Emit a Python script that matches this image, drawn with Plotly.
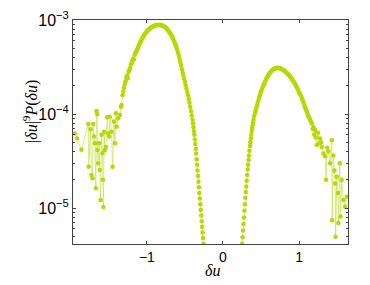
import plotly.graph_objects as go

# ---- data: delta-u positions and log10(|du|^9 P(du)) ----
left_tail_x = [-1.947, -1.917, -1.86, -1.77, -1.765, -1.74, -1.728, -1.714, -1.706, -1.697,
               -1.684, -1.671, -1.662, -1.654, -1.650, -1.641, -1.628, -1.618, -1.609, -1.596,
               -1.583, -1.578, -1.572, -1.562, -1.553, -1.54, -1.522, -1.509, -1.496, -1.487,
               -1.465, -1.451, -1.434, -1.42, -1.408, -1.399, -1.377, -1.355, -1.342, -1.333]
left_tail_logy = [-4.206, -4.26, -4.38, -4.106, -4.56, -4.163, -4.65, -4.684, -4.106, -4.24,
                  -4.31, -4.79, -3.968, -4.003, -4.383, -4.525, -4.31, -4.596, -4.915, -4.22,
                  -4.418, -4.70, -4.99, -4.188, -4.383, -4.35, -4.035, -4.206, -4.24, -4.03,
                  -4.188, -4.56, -4.08, -4.31, -3.993, -4.135, -4.046, -4.01, -3.922, -3.904]

left_hump_x = [-1.32, -1.31, -1.30, -1.29, -1.28, -1.27, -1.26, -1.25, -1.24, -1.23, -1.22, -1.21,
               -1.20, -1.19, -1.18, -1.17, -1.16, -1.15, -1.14, -1.13, -1.12, -1.11, -1.10, -1.09,
               -1.08, -1.07, -1.06, -1.05, -1.04, -1.03, -1.02, -1.01,
               -1.00, -0.99, -0.98, -0.97, -0.96, -0.95, -0.94, -0.93, -0.92, -0.91, -0.90, -0.89,
               -0.88, -0.87, -0.86, -0.85, -0.84, -0.83, -0.82, -0.81, -0.80, -0.79,
               -0.78, -0.77, -0.76, -0.75, -0.74, -0.73, -0.72, -0.71, -0.70, -0.69, -0.68, -0.67,
               -0.66, -0.65, -0.64, -0.63, -0.62, -0.61, -0.60, -0.59, -0.58,
               -0.57, -0.56, -0.55, -0.54, -0.53, -0.52, -0.51, -0.50, -0.49, -0.48, -0.47, -0.46,
               -0.45, -0.44, -0.43, -0.42, -0.41]
left_hump_logy = [-3.80, -3.76, -3.72, -3.68, -3.65, -3.61, -3.59, -3.62, -3.55, -3.53, -3.51, -3.47,
                  -3.46, -3.43, -3.41, -3.42, -3.37, -3.35, -3.335, -3.32, -3.30, -3.28, -3.26, -3.24,
                  -3.225, -3.21, -3.19, -3.18, -3.165, -3.15, -3.14, -3.13,
                  -3.12, -3.11, -3.105, -3.097, -3.09, -3.083, -3.077, -3.072, -3.068, -3.064, -3.061, -3.058,
                  -3.056, -3.054, -3.053, -3.052, -3.052, -3.053, -3.054, -3.056, -3.058, -3.061,
                  -3.065, -3.07, -3.075, -3.082, -3.09, -3.10, -3.11, -3.122, -3.135, -3.147, -3.16, -3.175,
                  -3.19, -3.21, -3.23, -3.25, -3.27, -3.295, -3.32, -3.35, -3.38,
                  -3.415, -3.45, -3.485, -3.52, -3.555, -3.59, -3.625, -3.66, -3.695, -3.73, -3.765, -3.80,
                  -3.84, -3.88, -3.925, -3.97, -4.015]

left_steep_x = [-0.400, -0.394, -0.388, -0.382, -0.376, -0.370, -0.364, -0.358, -0.352, -0.346,
                -0.340, -0.334, -0.328, -0.322, -0.316, -0.310, -0.304, -0.298, -0.292, -0.286,
                -0.280, -0.274, -0.268, -0.262, -0.256]
left_steep_logy = [-4.06, -4.10, -4.14, -4.18, -4.22, -4.27, -4.32, -4.37, -4.42, -4.48,
                   -4.54, -4.60, -4.66, -4.72, -4.78, -4.84, -4.90, -4.96, -5.02, -5.08,
                   -5.14, -5.20, -5.26, -5.32, -5.38]

right_steep_x = [0.252, 0.258, 0.264, 0.270, 0.276, 0.282, 0.288, 0.294, 0.300, 0.306,
                 0.312, 0.318, 0.324, 0.330, 0.336, 0.342, 0.348, 0.354, 0.360, 0.366,
                 0.372, 0.378, 0.384, 0.390, 0.396, 0.402]
right_steep_logy = [-5.38, -5.31, -5.24, -5.17, -5.10, -5.03, -4.96, -4.89, -4.83, -4.77,
                    -4.71, -4.65, -4.59, -4.54, -4.49, -4.44, -4.39, -4.34, -4.30, -4.26,
                    -4.22, -4.18, -4.15, -4.12, -4.09, -4.06]

right_hump_x = [0.41, 0.42, 0.43, 0.44, 0.45, 0.46, 0.47, 0.48, 0.49, 0.50, 0.51, 0.52, 0.53, 0.54,
                0.55, 0.56, 0.57, 0.58, 0.59, 0.60, 0.61, 0.62, 0.63, 0.64, 0.65, 0.66, 0.67,
                0.68, 0.69, 0.70, 0.71, 0.72, 0.73, 0.74, 0.75, 0.76, 0.77, 0.78, 0.79, 0.80,
                0.81, 0.82, 0.83, 0.84, 0.85, 0.86, 0.87, 0.88, 0.89, 0.90, 0.91, 0.92,
                0.93, 0.94, 0.95, 0.96, 0.97, 0.98, 0.99, 1.00, 1.01, 1.02, 1.03, 1.04, 1.05,
                1.06, 1.07, 1.08, 1.09, 1.10, 1.11, 1.12, 1.13, 1.14, 1.15, 1.16]
right_hump_logy = [-4.02, -3.99, -3.96, -3.93, -3.90, -3.87, -3.84, -3.81, -3.785, -3.76, -3.74,
                   -3.72, -3.70, -3.68, -3.66, -3.64, -3.625, -3.61, -3.595, -3.58, -3.57, -3.56,
                   -3.55, -3.54, -3.532, -3.525, -3.52, -3.515, -3.512, -3.51, -3.509, -3.508,
                   -3.509, -3.51, -3.512, -3.515, -3.52, -3.525, -3.53, -3.535, -3.542, -3.55,
                   -3.557, -3.565, -3.572, -3.58, -3.59, -3.60, -3.61, -3.62, -3.632, -3.645,
                   -3.657, -3.67, -3.685, -3.70, -3.715, -3.73, -3.75, -3.77, -3.785, -3.80,
                   -3.82, -3.84, -3.86, -3.88, -3.905, -3.93, -3.95, -3.97, -3.995, -4.02,
                   -4.035, -4.05, -4.07, -4.09]

right_tail_x = [1.167, 1.18, 1.19, 1.20, 1.21, 1.22, 1.233, 1.25, 1.265, 1.276, 1.29, 1.30,
                1.32, 1.342, 1.355, 1.37, 1.386, 1.408, 1.43, 1.435, 1.45, 1.465, 1.474,
                1.48, 1.496, 1.51, 1.517, 1.535, 1.545, 1.56, 1.583, 1.605, 1.627]
right_tail_logy = [-4.10, -4.16, -4.14, -4.22, -4.17, -4.25, -4.33, -4.20, -4.31, -4.26, -4.30, -4.35,
                   -4.42, -4.45, -4.70, -4.36, -4.40, -4.525, -4.28, -5.13, -4.44, -4.60, -4.74,
                   -5.305, -4.667, -4.84, -5.16, -4.525, -5.09, -4.70, -4.915, -4.986, -4.88]

x_ticks = [-1, 0, 1]
x_tick_labels = ["\u22121", "0", "1"]
y_ticks = [1e-5, 1e-4, 1e-3]
y_tick_labels = ["10<sup>\u22125</sup>", "10<sup>\u22124</sup>", "10<sup>\u22123</sup>"]

# assemble series (None breaks the line where the curve dips below the axis)
xs = (left_tail_x + left_hump_x + left_steep_x + [0.0]
      + right_steep_x + right_hump_x + right_tail_x)
logys = (left_tail_logy + left_hump_logy + left_steep_logy + [None]
         + right_steep_logy + right_hump_logy + right_tail_logy)
ys = [None if v is None else 10 ** v for v in logys]

MARK = "#b6d900"

fig = go.Figure()
fig.add_trace(go.Scatter(
    x=xs, y=ys, mode="lines+markers",
    line=dict(color="rgba(200,228,90,0.75)", width=1),
    marker=dict(color=MARK, size=4.5, line=dict(width=0)),
    connectgaps=False, showlegend=False, hoverinfo="skip",
))

# the page body adds an 8px offset; plot area in the screenshot spans x 73..348, y 20..244
OFF = 8
W, H = 370, 285
L, T = 73 - OFF, 20 - OFF
R, B = W - (348 - OFF), H - (244 - OFF)

axis_col = "#444444"
fig.update_layout(
    width=W, height=H,
    margin=dict(l=L, r=R, t=T, b=B, autoexpand=False),
    paper_bgcolor="white", plot_bgcolor="white",
    font=dict(family="Liberation Sans, Arial, sans-serif", size=13, color="black"),
    xaxis=dict(
        range=[-1.971, 1.643], tickvals=x_ticks, ticktext=x_tick_labels,
        ticks="inside", ticklen=3, tickcolor=axis_col, showgrid=False, zeroline=False,
        showline=True, linecolor=axis_col, linewidth=1, mirror="ticks",
        tickfont=dict(size=14), automargin=False,
    ),
    yaxis=dict(
        type="log", range=[-5.383, -2.9995], tickvals=y_ticks, ticktext=y_tick_labels,
        ticks="inside", ticklen=3, tickcolor=axis_col, showgrid=False, zeroline=False,
        showline=True, linecolor=axis_col, linewidth=1, mirror="ticks",
        minor=dict(ticks="inside", ticklen=2, tickcolor=axis_col, showgrid=False,
                   tickvals=[k * 10 ** e for e in (-6, -5, -4) for k in range(2, 10)]),
        tickfont=dict(size=16), automargin=False,
    ),
)

# axis titles placed at pixel positions (screenshot coords)
pw, ph = W - L - R, H - T - B
def to_paper(px, py):
    px, py = px - OFF, py - OFF
    return (px - L) / pw, 1 - (py - T) / ph

xl, yl = to_paper(212, 270)
fig.add_annotation(text="<i>δu</i>", x=xl, y=yl, xref="paper", yref="paper",
                   xanchor="center", yanchor="middle", showarrow=False,
                   font=dict(family="Liberation Serif, DejaVu Serif, serif", size=16))
xl, yl = to_paper(30, 112)
fig.add_annotation(text="|<i>δu</i>|<sup>9</sup><i>P</i>(<i>δu</i>)", x=xl, y=yl,
                   xref="paper", yref="paper", textangle=-90, showarrow=False,
                   xanchor="center", yanchor="middle",
                   font=dict(family="Liberation Serif, DejaVu Serif, serif", size=16))

fig.write_html("out.html")
